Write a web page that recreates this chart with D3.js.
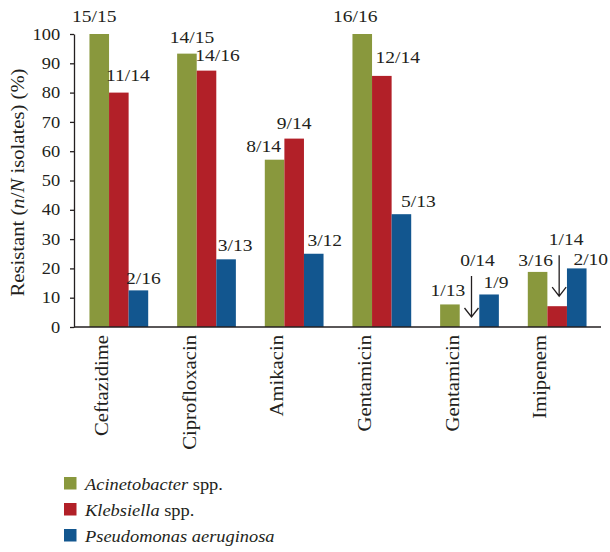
<!DOCTYPE html>
<html>
<head>
<meta charset="utf-8">
<script src="https://cdn.jsdelivr.net/npm/d3@7"></script>
<style>
  body { margin: 0; background: #fff; }
  text { font-family: "Liberation Serif", "Times New Roman", serif; fill: #231f20; }
</style>
</head>
<body>
<script>
const categories = ["Ceftazidime", "Ciprofloxacin", "Amikacin", "Gentamicin", "Gentamicin", "Imipenem"];
const seriesNames = ["Acinetobacter", "Klebsiella", "Pseudomonas aeruginosa"];
const seriesSuffix = [" spp.", " spp.", ""];
const acinetobacter = [100, 93.3, 57.1, 100, 7.7, 18.8];
const klebsiella = [80, 87.5, 64.3, 85.7, 0, 7.1];
const pseudomonas = [12.5, 23.1, 25, 38.5, 11.1, 20];
const acinetobacterLabels = ["15/15", "14/15", "8/14", "16/16", "1/13", "3/16"];
const klebsiellaLabels = ["11/14", "14/16", "9/14", "12/14", "0/14", "1/14"];
const pseudomonasLabels = ["2/16", "3/13", "3/12", "5/13", "1/9", "2/10"];
const yTicks = [0, 10, 20, 30, 40, 50, 60, 70, 80, 90, 100];

// hand placement of the n/N labels, as in the original figure
const labelDx = [
  [-5, 5, -11, -7, -2, -2],
  [9, 11, 0, 16, 8, 9],
  [5, 9, 11, 17, 7, 14],
];
const labelDy = [
  [12, 11, 8, 12, 8, 6],
  [12, 10, 10, 13, 61, 61],
  [6, 8, 8, 7, 6, 3],
];
// labels that point to their bar with an arrow: [category, series]
const arrows = [[4, 1], [5, 1]];

const width = 610;
const height = 552;
const stretch = 1.15;
const colors = ["#89983d", "#b22028", "#12568f"];

const values = [acinetobacter, klebsiella, pseudomonas];
const labels = [acinetobacterLabels, klebsiellaLabels, pseudomonasLabels];

const svg = d3
  .select("body")
  .append("svg")
  .attr("width", width)
  .attr("height", height);

const x0 = d3
  .scaleBand()
  .domain(d3.range(categories.length))
  .range([75, 601])
  .paddingInner(0.33)
  .paddingOuter(0.165);

const x1 = d3
  .scaleBand()
  .domain(d3.range(seriesNames.length))
  .range([0, x0.bandwidth()]);

const y = d3.scaleLinear().domain([0, 100]).range([327, 34]);

const data = [];
categories.forEach((c, i) =>
  values.forEach((v, s) =>
    data.push({ cat: i, s, value: v[i], label: labels[s][i] })
  )
);

// bars
svg
  .append("g")
  .selectAll("rect")
  .data(data)
  .join("rect")
  .attr("x", (d) => x0(d.cat) + x1(d.s))
  .attr("y", (d) => y(d.value))
  .attr("width", x1.bandwidth())
  .attr("height", (d) => y(0) - y(d.value))
  .attr("fill", (d) => colors[d.s]);

// y axis
const yAxis = svg
  .append("g")
  .attr("transform", "translate(74,0)")
  .call(d3.axisLeft(y).tickValues(yTicks).tickSize(4).tickSizeOuter(0).tickPadding(8));
yAxis.selectAll("path, line").attr("stroke", "#231f20").attr("stroke-width", 1.3);
yAxis
  .selectAll("text")
  .attr("font-family", "Liberation Serif, serif")
  .attr("font-size", 16)
  .attr("fill", "#231f20")
  .attr("transform", `scale(${stretch},1)`);

// x axis line
svg
  .append("line")
  .attr("x1", 74)
  .attr("x2", 601)
  .attr("y1", y(0))
  .attr("y2", y(0))
  .attr("stroke", "#231f20")
  .attr("stroke-width", 1.5);

// category labels
svg
  .append("g")
  .selectAll("text")
  .data(categories)
  .join("text")
  .attr("transform", (_, i) =>
    `translate(${x0(i) + x0.bandwidth() / 2 - 11},335) rotate(-90) scale(${stretch},1)`
  )
  .attr("text-anchor", "end")
  .attr("font-size", 18)
  .text((d) => d);

// y title
const title = svg
  .append("text")
  .attr("transform", `translate(24,${(y(0) + y(100)) / 2 + 2}) rotate(-90) scale(${stretch},1)`)
  .attr("text-anchor", "middle")
  .attr("font-size", 18);
title.append("tspan").text("Resistant (");
title.append("tspan").attr("font-style", "italic").text("n");
title.append("tspan").text("/");
title.append("tspan").attr("font-style", "italic").text("N");
title.append("tspan").text(" isolates) (%)");

// value labels
const labelX = (d) => x0(d.cat) + x1(d.s) + x1.bandwidth() / 2 + labelDx[d.s][d.cat];
const labelY = (d) => y(d.value) - labelDy[d.s][d.cat];

svg
  .append("g")
  .selectAll("text")
  .data(data)
  .join("text")
  .attr("transform", (d) => `translate(${labelX(d)},${labelY(d)}) scale(${stretch},1)`)
  .attr("text-anchor", "middle")
  .attr("font-size", 17)
  .text((d) => d.label);

// arrows from label to bar
const arrowData = arrows.map(([c, s]) => data.find((d) => d.cat === c && d.s === s));
const arrowG = svg
  .append("g")
  .attr("stroke", "#231f20")
  .attr("stroke-width", 1.3)
  .attr("fill", "none");
arrowG
  .selectAll("path")
  .data(arrowData)
  .join("path")
  .attr("d", (d) => {
    const ax = x0(d.cat) + x1(d.s) + x1.bandwidth() / 2 + 2;
    const top = labelY(d) + 10;
    const bottom = y(d.value) - 10;
    return `M${ax},${top}V${bottom}M${ax - 7},${bottom - 9}L${ax},${bottom}L${ax + 7},${bottom - 9}`;
  });

// legend
const legend = svg
  .append("g")
  .selectAll("g")
  .data(seriesNames)
  .join("g")
  .attr("transform", (_, i) => `translate(64,${477 + i * 26})`);
legend
  .append("rect")
  .attr("width", 12.5)
  .attr("height", 12.5)
  .attr("fill", (_, i) => colors[i]);
const legendText = legend
  .append("text")
  .attr("transform", `translate(21,13) scale(${stretch},1)`)
  .attr("font-size", 16);
legendText.append("tspan").attr("font-style", "italic").text((d) => d);
legendText.append("tspan").text((_, i) => seriesSuffix[i]);
</script>
</body>
</html>
